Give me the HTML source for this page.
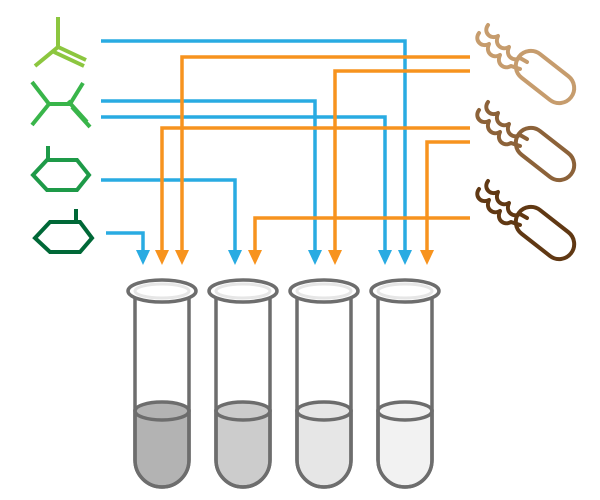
<!DOCTYPE html>
<html><head><style>html,body{margin:0;padding:0;background:#fff;}svg{display:block}</style></head>
<body>
<svg width="600" height="500" viewBox="0 0 600 500" xmlns="http://www.w3.org/2000/svg">
<defs>
<g id="bac" fill="none" stroke-width="4" stroke-linecap="round" stroke-linejoin="round">
  <rect x="-33" y="-15" width="66" height="30" rx="15" transform="rotate(38)"/>
  <path d="M-57,-52 c-5,7 2,15 10,11 c-4,9 4,15 11,11 c-4,9 4,15 11,11 l7,4"/>
  <path d="M-66,-44 c-5,7 2,15 10,11 c-4,9 4,15 11,11 c-4,9 4,15 11,11 l9,3"/>
</g>
</defs>
<g fill="none" stroke-width="3.5">
  <g stroke="#29abe2">
    <path d="M101,41 H405 V252"/>
    <path d="M101,101 H315 V252"/>
    <path d="M101,117 H385 V252"/>
    <path d="M101,180 H235 V252"/>
    <path d="M106,233 H143 V252"/>
  </g>
  <g stroke="#f7931e">
    <path d="M470,57 H182 V252"/>
    <path d="M470,71 H335 V252"/>
    <path d="M470,128 H162 V252"/>
    <path d="M470,142 H427 V252"/>
    <path d="M470,218 H255 V252"/>
  </g>
</g>
<g fill="#29abe2">
  <path d="M136,250 h14 l-7,15z"/><path d="M228,250 h14 l-7,15z"/><path d="M308,250 h14 l-7,15z"/>
  <path d="M378,250 h14 l-7,15z"/><path d="M398,250 h14 l-7,15z"/>
</g>
<g fill="#f7931e">
  <path d="M155,250 h14 l-7,15z"/><path d="M175,250 h14 l-7,15z"/><path d="M248,250 h14 l-7,15z"/>
  <path d="M328,250 h14 l-7,15z"/><path d="M420,250 h14 l-7,15z"/>
</g>
<g fill="none" stroke-width="4" stroke-linejoin="miter">
  <g stroke="#8cc63f"><path d="M58,17 V47 L35,66"/><path d="M56,46 L86,60 M54,52 L84,66"/></g>
  <g stroke="#39b54a"><path d="M32,82 L49,104 L32,125 M49,104 H70 L83,83"/><path d="M68,101 L87,122 M72,107 L90,127"/></g>
  <g stroke="#1e9a48"><path d="M33,175 L47,160 L77,160 L89,175 L77,190 L47,190 Z M48,160 V146"/></g>
  <g stroke="#006837"><path d="M35,238 L50,222 L80,222 L92,238 L80,252 L50,252 Z M76,222 V209"/></g>
</g>
<use href="#bac" transform="translate(545,77)" stroke="#c69c6d"/>
<use href="#bac" transform="translate(545,154)" stroke="#8c6239"/>
<use href="#bac" transform="translate(545,233)" stroke="#603813"/>
<g stroke="#6d6d6d" stroke-width="3.5">
  <g transform="translate(162,0)">
    <path d="M-27,411 V460 a27,27 0 0 0 54,0 V411 Z" fill="#b3b3b3"/>
    <ellipse cx="0" cy="411" rx="27" ry="9" fill="#b3b3b3"/>
    <path d="M-27,296 V460 a27,27 0 0 0 54,0 V296" fill="none"/>
    <ellipse cx="0" cy="291" rx="34" ry="11" fill="#fff"/>
    <ellipse cx="0" cy="291" rx="27" ry="7" fill="none" stroke="#e6e6e6" stroke-width="3"/>
  </g>
  <g transform="translate(243,0)">
    <path d="M-27,411 V460 a27,27 0 0 0 54,0 V411 Z" fill="#cccccc"/>
    <ellipse cx="0" cy="411" rx="27" ry="9" fill="#cccccc"/>
    <path d="M-27,296 V460 a27,27 0 0 0 54,0 V296" fill="none"/>
    <ellipse cx="0" cy="291" rx="34" ry="11" fill="#fff"/>
    <ellipse cx="0" cy="291" rx="27" ry="7" fill="none" stroke="#e6e6e6" stroke-width="3"/>
  </g>
  <g transform="translate(324,0)">
    <path d="M-27,411 V460 a27,27 0 0 0 54,0 V411 Z" fill="#e6e6e6"/>
    <ellipse cx="0" cy="411" rx="27" ry="9" fill="#e6e6e6"/>
    <path d="M-27,296 V460 a27,27 0 0 0 54,0 V296" fill="none"/>
    <ellipse cx="0" cy="291" rx="34" ry="11" fill="#fff"/>
    <ellipse cx="0" cy="291" rx="27" ry="7" fill="none" stroke="#e6e6e6" stroke-width="3"/>
  </g>
  <g transform="translate(405,0)">
    <path d="M-27,411 V460 a27,27 0 0 0 54,0 V411 Z" fill="#f2f2f2"/>
    <ellipse cx="0" cy="411" rx="27" ry="9" fill="#f2f2f2"/>
    <path d="M-27,296 V460 a27,27 0 0 0 54,0 V296" fill="none"/>
    <ellipse cx="0" cy="291" rx="34" ry="11" fill="#fff"/>
    <ellipse cx="0" cy="291" rx="27" ry="7" fill="none" stroke="#e6e6e6" stroke-width="3"/>
  </g>
</g>
</svg>
</body></html>
